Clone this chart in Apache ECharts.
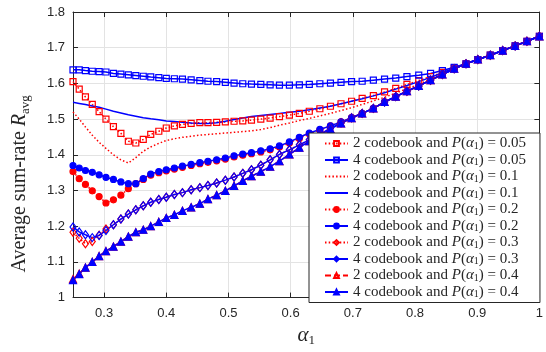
<!DOCTYPE html>
<html>
<head>
<meta charset="utf-8">
<script src="https://cdn.jsdelivr.net/npm/echarts@6/dist/echarts.min.js"></script>
<style>
html, body { margin: 0; padding: 0; background: #fff; }
#chart { width: 546px; height: 352px; }
</style>
</head>
<body>
<div id="chart"></div>
<script>
// alpha_1 sample points
const alpha = [0.25, 0.26, 0.27, 0.281, 0.292, 0.303, 0.315, 0.327, 0.339, 0.351,
  0.363, 0.375, 0.388, 0.4, 0.413, 0.426, 0.44, 0.454, 0.467, 0.481,
  0.495, 0.509, 0.523, 0.537, 0.552, 0.567, 0.582, 0.598, 0.614, 0.63,
  0.647, 0.664, 0.681, 0.698, 0.715, 0.733, 0.751, 0.769, 0.787, 0.806,
  0.825, 0.844, 0.863, 0.882, 0.901, 0.921, 0.941, 0.961, 0.98, 1.0];

const cb2_p005 = [1.605, 1.584, 1.562, 1.541, 1.521, 1.500, 1.479, 1.460, 1.438, 1.433,
  1.443, 1.457, 1.466, 1.475, 1.481, 1.485, 1.488, 1.490, 1.490, 1.491,
  1.492, 1.494, 1.495, 1.497, 1.500, 1.503, 1.507, 1.511, 1.516, 1.522,
  1.529, 1.536, 1.543, 1.550, 1.558, 1.566, 1.576, 1.586, 1.597, 1.608,
  1.619, 1.631, 1.643, 1.655, 1.667, 1.679, 1.692, 1.705, 1.718, 1.732];
const cb4_p005 = [1.638, 1.638, 1.636, 1.634, 1.633, 1.632, 1.628, 1.626, 1.624, 1.622,
  1.620, 1.618, 1.616, 1.614, 1.613, 1.612, 1.610, 1.608, 1.606, 1.605,
  1.603, 1.601, 1.599, 1.598, 1.597, 1.596, 1.595, 1.595, 1.596, 1.597,
  1.599, 1.601, 1.603, 1.605, 1.606, 1.609, 1.612, 1.615, 1.619, 1.623,
  1.628, 1.636, 1.645, 1.655, 1.667, 1.679, 1.692, 1.705, 1.718, 1.732];
const cb2_p01 = [1.520, 1.500, 1.478, 1.455, 1.435, 1.418, 1.400, 1.386, 1.377, 1.392,
  1.410, 1.422, 1.432, 1.440, 1.445, 1.449, 1.452, 1.455, 1.457, 1.459,
  1.461, 1.463, 1.465, 1.467, 1.471, 1.476, 1.483, 1.489, 1.496, 1.502,
  1.509, 1.516, 1.524, 1.532, 1.541, 1.551, 1.561, 1.573, 1.585, 1.597,
  1.612, 1.628, 1.642, 1.655, 1.667, 1.679, 1.692, 1.705, 1.718, 1.732];
const cb4_p01 = [1.547, 1.544, 1.541, 1.537, 1.533, 1.528, 1.522, 1.517, 1.512, 1.508,
  1.504, 1.501, 1.498, 1.495, 1.493, 1.491, 1.489, 1.488, 1.488, 1.490,
  1.494, 1.499, 1.503, 1.507, 1.510, 1.513, 1.516, 1.519, 1.522, 1.526,
  1.531, 1.536, 1.543, 1.550, 1.557, 1.565, 1.574, 1.584, 1.594, 1.605,
  1.617, 1.630, 1.643, 1.655, 1.667, 1.679, 1.692, 1.705, 1.718, 1.732];
const cb2_p02 = [1.353, 1.333, 1.317, 1.299, 1.283, 1.265, 1.274, 1.287, 1.305, 1.319,
  1.331, 1.343, 1.350, 1.355, 1.360, 1.365, 1.370, 1.375, 1.379, 1.383,
  1.388, 1.394, 1.399, 1.403, 1.408, 1.414, 1.422, 1.433, 1.446, 1.459,
  1.470, 1.481, 1.492, 1.504, 1.516, 1.530, 1.548, 1.563, 1.578, 1.593,
  1.609, 1.625, 1.641, 1.655, 1.667, 1.679, 1.692, 1.705, 1.718, 1.732];
const cb4_p02 = [1.370, 1.363, 1.356, 1.351, 1.344, 1.337, 1.331, 1.324, 1.319, 1.319,
  1.333, 1.346, 1.353, 1.358, 1.363, 1.368, 1.373, 1.378, 1.382, 1.386,
  1.391, 1.397, 1.402, 1.406, 1.411, 1.417, 1.425, 1.436, 1.449, 1.461,
  1.471, 1.481, 1.492, 1.504, 1.516, 1.530, 1.548, 1.563, 1.578, 1.593,
  1.609, 1.625, 1.641, 1.655, 1.667, 1.679, 1.692, 1.705, 1.718, 1.732];
const cb2_p03 = [1.183, 1.166, 1.151, 1.157, 1.175, 1.192, 1.204, 1.220, 1.234, 1.246,
  1.257, 1.267, 1.275, 1.281, 1.289, 1.294, 1.302, 1.308, 1.314, 1.321,
  1.329, 1.338, 1.348, 1.358, 1.371, 1.386, 1.401, 1.414, 1.428, 1.442,
  1.458, 1.474, 1.490, 1.504, 1.516, 1.530, 1.548, 1.563, 1.578, 1.593,
  1.609, 1.625, 1.641, 1.655, 1.667, 1.679, 1.692, 1.705, 1.718, 1.732];
const cb4_p03 = [1.198, 1.184, 1.176, 1.168, 1.174, 1.188, 1.204, 1.220, 1.234, 1.246,
  1.257, 1.267, 1.275, 1.281, 1.289, 1.294, 1.302, 1.308, 1.314, 1.321,
  1.329, 1.338, 1.348, 1.358, 1.371, 1.386, 1.401, 1.414, 1.428, 1.442,
  1.458, 1.474, 1.490, 1.504, 1.516, 1.530, 1.548, 1.563, 1.578, 1.593,
  1.609, 1.625, 1.641, 1.655, 1.667, 1.679, 1.692, 1.705, 1.718, 1.732];
const cb2_p04 = [1.052, 1.067, 1.084, 1.100, 1.116, 1.130, 1.143, 1.157, 1.171, 1.183,
  1.190, 1.200, 1.212, 1.223, 1.232, 1.243, 1.253, 1.263, 1.276, 1.287,
  1.299, 1.313, 1.327, 1.340, 1.353, 1.367, 1.382, 1.401, 1.420, 1.438,
  1.456, 1.472, 1.488, 1.503, 1.516, 1.530, 1.548, 1.563, 1.578, 1.593,
  1.609, 1.625, 1.641, 1.655, 1.667, 1.679, 1.692, 1.705, 1.718, 1.732];
const cb4_p04 = [1.049, 1.066, 1.084, 1.100, 1.116, 1.130, 1.143, 1.157, 1.171, 1.183,
  1.190, 1.200, 1.212, 1.223, 1.232, 1.243, 1.253, 1.263, 1.276, 1.287,
  1.299, 1.313, 1.327, 1.340, 1.353, 1.367, 1.382, 1.401, 1.420, 1.438,
  1.456, 1.472, 1.488, 1.503, 1.516, 1.530, 1.548, 1.563, 1.578, 1.593,
  1.609, 1.625, 1.641, 1.655, 1.667, 1.679, 1.692, 1.705, 1.718, 1.732];

const xTicks = [0.3, 0.4, 0.5, 0.6, 0.7, 0.8, 0.9, 1];

const RED = '#ff0000';
const BLUE = '#0000ff';
const AXIS = '#262626';
const NONE = 'rgba(255,255,255,0)';
const SERIF = '"Liberation Serif", "DejaVu Serif", serif';
const SANS = '"Liberation Sans", Arial, sans-serif';

const chart = echarts.init(document.getElementById('chart'));

function mk(name, ys, color, dash, symbol, size, filled) {
  return {
    name: name,
    type: 'line',
    data: alpha.map((a, i) => [a, ys[i]]),
    symbol: symbol || 'circle',
    showSymbol: !!symbol,
    symbolSize: size || 6,
    lineStyle: { color: color, width: 1.5, type: dash },
    // series without markers get an invisible symbol so the legend shows only the line
    itemStyle: {
      color: filled ? color : NONE,
      borderColor: symbol ? color : NONE,
      borderWidth: 1.2
    },
    silent: true,
    animation: false
  };
}

const DOT = [1.5, 2.2];
const DASH = [6, 3];

const series = [
  mk('2 codebook and P(α1) = 0.05', cb2_p005, RED, DOT, 'rect', 6, false),
  mk('4 codebook and P(α1) = 0.05', cb4_p005, BLUE, 'solid', 'rect', 6, false),
  mk('2 codebook and P(α1) = 0.1', cb2_p01, RED, DOT),
  mk('4 codebook and P(α1) = 0.1', cb4_p01, BLUE, 'solid'),
  mk('2 codebook and P(α1) = 0.2', cb2_p02, RED, DOT, 'circle', 6, true),
  mk('4 codebook and P(α1) = 0.2', cb4_p02, BLUE, 'solid', 'circle', 6, true),
  mk('2 codebook and P(α1) = 0.3', cb2_p03, RED, DOT, 'diamond', [6, 8], false),
  mk('4 codebook and P(α1) = 0.3', cb4_p03, BLUE, 'solid', 'diamond', [6, 8], false),
  mk('2 codebook and P(α1) = 0.4', cb2_p04, RED, DASH, 'triangle', 7, false),
  mk('4 codebook and P(α1) = 0.4', cb4_p04, BLUE, 'solid', 'triangle', 7, true)
];

function legendText(name) {
  const parts = name.split('P(α1)');
  return '{t|' + parts[0] + '}{i|P}{t|(}{i|α}{s|1}{t|)' + parts[1] + '}';
}

const tickStyle = { inside: true, length: 5, lineStyle: { color: AXIS, width: 1 } };

const option = {
  backgroundColor: '#fff',
  animation: false,
  grid: { left: 67, right: 3, top: 12, bottom: 48 },
  legend: {
    orient: 'vertical',
    left: 309,
    top: 133,
    padding: [3, 14, 3, 15],
    itemWidth: 23,
    itemHeight: 6,
    itemGap: 1.5,
    backgroundColor: '#fff',
    borderColor: AXIS,
    borderWidth: 1,
    borderRadius: 0,
    selectedMode: false,
    formatter: legendText,
    textStyle: {
      rich: {
        t: { fontFamily: SERIF, fontSize: 15, color: AXIS, lineHeight: 15 },
        i: { fontFamily: SERIF, fontSize: 15, fontStyle: 'italic', color: AXIS, lineHeight: 15 },
        s: { fontFamily: SERIF, fontSize: 10, color: AXIS, lineHeight: 8, verticalAlign: 'bottom' }
      }
    }
  },
  xAxis: [{
    type: 'value',
    min: 0.25,
    max: 1,
    position: 'bottom',
    axisLine: { show: true, onZero: false, lineStyle: { color: AXIS, width: 1 } },
    axisTick: Object.assign({ customValues: xTicks }, tickStyle),
    axisLabel: {
      customValues: xTicks,
      color: AXIS,
      fontFamily: SANS,
      fontSize: 13,
      margin: 9,
      formatter: v => String(v)
    },
    splitLine: { show: true, lineStyle: { color: '#e3e3e3', width: 1 } },
    name: '{i|α}{s|1}',
    nameLocation: 'middle',
    nameGap: 23,
    nameTextStyle: {
      rich: {
        i: { fontFamily: SERIF, fontSize: 21, fontStyle: 'italic', color: AXIS, lineHeight: 24 },
        s: { fontFamily: SERIF, fontSize: 13, color: AXIS, lineHeight: 12, verticalAlign: 'bottom' }
      }
    }
  }, {
    type: 'value',
    min: 0.25,
    max: 1,
    position: 'top',
    axisLine: { show: true, onZero: false, lineStyle: { color: AXIS, width: 1 } },
    axisTick: Object.assign({ customValues: xTicks }, tickStyle),
    axisLabel: { show: false },
    splitLine: { show: false }
  }],
  yAxis: [{
    type: 'value',
    min: 1,
    max: 1.8,
    interval: 0.1,
    position: 'left',
    axisLine: { show: true, onZero: false, lineStyle: { color: AXIS, width: 1 } },
    axisTick: tickStyle,
    axisLabel: { color: AXIS, fontFamily: SANS, fontSize: 13, margin: 8 },
    splitLine: { show: true, lineStyle: { color: '#e3e3e3', width: 1 } },
    name: 'Average sum-rate {i|R}{s|avg}',
    nameLocation: 'middle',
    nameGap: 41,
    nameTextStyle: {
      fontFamily: SERIF,
      fontSize: 20,
      color: AXIS,
      lineHeight: 24,
      padding: [0, 58, 0, 0],
      rich: {
        i: { fontFamily: SERIF, fontSize: 20, fontStyle: 'italic', color: AXIS, lineHeight: 24 },
        s: { fontFamily: SERIF, fontSize: 13, color: AXIS, lineHeight: 12, verticalAlign: 'bottom' }
      }
    }
  }, {
    type: 'value',
    min: 1,
    max: 1.8,
    interval: 0.1,
    position: 'right',
    axisLine: { show: true, onZero: false, lineStyle: { color: AXIS, width: 1 } },
    axisTick: tickStyle,
    axisLabel: { show: false },
    splitLine: { show: false }
  }],
  series: series
};

chart.setOption(option);
</script>
</body>
</html>
